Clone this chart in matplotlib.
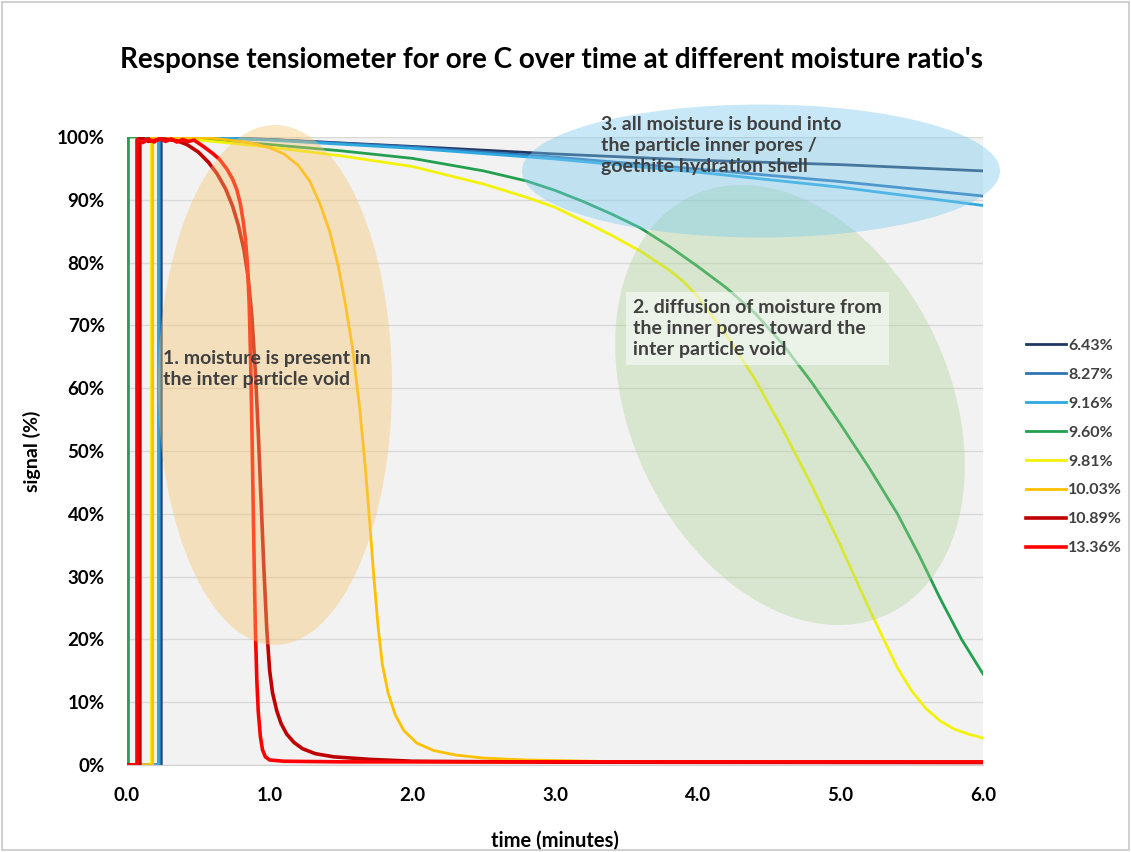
import matplotlib
matplotlib.use("Agg")
import matplotlib.pyplot as plt
from matplotlib.patches import Ellipse, Rectangle
from matplotlib.ticker import FuncFormatter

plt.rcParams['font.family'] = ['Lato', 'DejaVu Sans']

# ---------------- data ----------------
title = "Response tensiometer for ore C over time at different moisture ratio's"
x_label = "time (minutes)"
y_label = "signal (%)"

series_labels = ["6.43%", "8.27%", "9.16%", "9.60%", "9.81%", "10.03%", "10.89%", "13.36%"]
series_colors = ["#203864", "#2e75b6", "#2fa8e0", "#22a050", "#f2f20a", "#ffc000", "#c00000", "#ff0000"]

t_643 = [0, 0.24, 0.24, 0.5, 1.0, 2.0, 3.0, 4.0, 5.0, 6.0]
v_643 = [0, 0, 100, 100, 99.6, 98.5, 97.3, 96.3, 95.6, 94.6]

t_827 = [0, 0.23, 0.23, 0.5, 1.0, 2.0, 3.0, 4.0, 5.0, 6.0]
v_827 = [0, 0, 100, 100, 99.6, 98.4, 96.8, 94.9, 92.9, 90.6]

t_916 = [0, 0.22, 0.22, 0.5, 1.0, 2.0, 3.0, 4.0, 5.0, 6.0]
v_916 = [0, 0, 100, 100, 99.5, 98.2, 96.5, 94.4, 92.0, 89.1]

t_960 = [0, 0.01, 0.01, 0.3, 0.6, 1.0, 1.5, 2.0, 2.5, 2.8, 3.0, 3.2, 3.4, 3.6, 3.8, 4.0, 4.2, 4.4,
         4.6, 4.8, 5.0, 5.2, 5.4, 5.55, 5.7, 5.85, 6.0]
v_960 = [0, 0, 100, 100, 99.5, 98.8, 97.8, 96.6, 94.6, 93.0, 91.5, 89.7, 87.7, 85.5, 82.6, 79.4, 76.0, 72.0,
         66.9, 60.9, 54.3, 47.4, 40.0, 33.5, 26.5, 20.0, 14.5]

t_981 = [0, 0.17, 0.17, 0.3, 0.6, 1.0, 1.5, 2.0, 2.5, 2.8, 3.0, 3.2, 3.4, 3.6, 3.8, 3.9, 4.0, 4.2, 4.4,
         4.6, 4.8, 5.0, 5.1, 5.2, 5.3, 5.4, 5.5, 5.6, 5.7, 5.8, 5.9, 6.0]
v_981 = [0, 0, 100, 100, 99.3, 98.4, 97.0, 95.3, 92.5, 90.4, 88.8, 86.6, 84.3, 81.8, 78.8, 77.0, 74.6, 68.5, 61.5,
         53.3, 44.5, 35.0, 30.0, 25.0, 20.2, 15.5, 11.8, 9.0, 7.0, 5.7, 4.9, 4.3]

t_1003 = [0, 0.18, 0.18, 0.4, 0.6, 0.8, 0.9, 1.0, 1.1, 1.2, 1.28, 1.35, 1.42, 1.48, 1.53, 1.58, 1.63, 1.67,
          1.70, 1.73, 1.76, 1.79, 1.83, 1.88, 1.94, 2.03, 2.15, 2.3, 2.5, 2.8, 3.5, 6.0]
v_1003 = [0, 0, 100, 100, 99.8, 99.3, 98.9, 98.3, 97.3, 95.5, 93.0, 89.5, 85.0, 79.5, 73.5, 66.5, 57.0, 47.5,
          39.0, 30.0, 22.0, 16.0, 11.5, 8.0, 5.5, 3.5, 2.3, 1.6, 1.1, 0.8, 0.5, 0.4]

t_1089 = [0, 0.09, 0.09, 0.15, 0.25, 0.35, 0.42, 0.5, 0.57, 0.63, 0.69, 0.74, 0.78, 0.82, 0.85, 0.875, 0.9,
          0.92, 0.94, 0.96, 0.98, 1.0, 1.02, 1.05, 1.08, 1.12, 1.17, 1.23, 1.32, 1.45, 1.7, 2.0, 3.0, 6.0]
v_1089 = [0, 0, 100, 99.3, 99.7, 99.4, 98.8, 97.6, 96.0, 94.2, 91.8, 89.0, 86.0, 82.0, 77.5, 71.5, 62.5,
          53.0, 42.0, 31.0, 21.5, 15.0, 11.5, 8.6, 6.6, 4.9, 3.6, 2.6, 1.8, 1.3, 0.9, 0.6, 0.45, 0.4]

t_1336 = [0, 0.07, 0.07, 0.11, 0.15, 0.19, 0.23, 0.27, 0.31, 0.35, 0.39, 0.43, 0.47, 0.535, 0.6, 0.65, 0.7,
          0.74, 0.77, 0.795, 0.815, 0.83, 0.845, 0.857, 0.867, 0.876, 0.884, 0.892, 0.9, 0.91, 0.92, 0.935,
          0.95, 0.97, 1.0, 1.1, 1.5, 6.0]
v_1336 = [0, 0, 99.6, 99.1, 99.7, 99.2, 99.8, 99.3, 99.7, 99.2, 99.6, 99.3, 99.5, 98.5, 97.4, 96.4, 94.9,
          93.3, 91.6, 89.3, 86.5, 83.8, 79.5, 73.0, 64.0, 53.0, 42.0, 31.0, 21.5, 13.5, 8.5, 4.5,
          2.4, 1.3, 0.8, 0.6, 0.5, 0.5]

series_t = [t_643, t_827, t_916, t_960, t_981, t_1003, t_1089, t_1336]
series_v = [v_643, v_827, v_916, v_960, v_981, v_1003, v_1089, v_1336]

x_ticks = [0, 1, 2, 3, 4, 5, 6]
y_ticks = [0, 10, 20, 30, 40, 50, 60, 70, 80, 90, 100]

note1 = "1. moisture is present in\nthe inter particle void"
note2 = "2. diffusion of moisture from\nthe inner pores toward the\ninter particle void"
note3 = "3. all moisture is bound into\nthe particle inner pores /\ngoethite hydration shell"

# ---------------- figure ----------------
W, H = 1131, 852
fig = plt.figure(figsize=(W / 100, H / 100), dpi=100)
fig.patch.set_facecolor("white")
ax = fig.add_axes([127 / W, 1 - 765 / H, (983 - 127) / W, (765 - 137) / H])
ax.set_facecolor("#f2f2f2")

for t, v, c, lab in zip(series_t, series_v, series_colors, series_labels):
    lw = 2.6 if c in ("#c00000", "#ff0000") else 2.0
    ax.plot(t, v, color=c, lw=lw, label=lab, zorder=2, solid_joinstyle="round")

ax.set_xlim(0, 6)
ax.set_ylim(0, 100)
ax.set_xticks(x_ticks)
ax.set_yticks(y_ticks)
ax.xaxis.set_major_formatter(FuncFormatter(lambda x, p: f"{x:.1f}"))
ax.yaxis.set_major_formatter(FuncFormatter(lambda y, p: f"{int(round(y))}%"))
ax.tick_params(length=0, labelsize=13.5)
ax.tick_params(axis="y", pad=16)
ax.tick_params(axis="x", pad=16)
for lbl in ax.get_xticklabels() + ax.get_yticklabels():
    lbl.set_fontweight("bold")
ax.yaxis.grid(True, color="#d9d9d9", lw=1.0, zorder=0)
ax.set_axisbelow(True)
for s in ["top", "right", "left"]:
    ax.spines[s].set_visible(False)
ax.spines["bottom"].set_color("#d0d0d0")

ax.set_xlabel(x_label, fontsize=14.5, fontweight="bold", labelpad=19)
ax.set_ylabel(y_label, fontsize=14, fontweight="bold", labelpad=11)
fig.text(552 / W, 1 - 60 / H, title, ha="center", va="center", fontsize=20, fontweight="bold")

# ellipses (pixel-based placement, in inches)
def px(xp, yp):
    return (xp / 100, (H - yp) / 100)

tr = fig.dpi_scale_trans
e1 = Ellipse(px(275, 385), 2.34, 5.20, angle=0, transform=tr, facecolor="#f8c46c", alpha=0.40,
             edgecolor="none", zorder=3)
e2 = Ellipse(px(790, 405), 4.62, 3.20, angle=-65, transform=tr, facecolor="#a9d18e", alpha=0.35,
             edgecolor="none", zorder=3)
e3 = Ellipse(px(761, 171), 4.78, 1.33, angle=0, transform=tr, facecolor="#7ccaee", alpha=0.42,
             edgecolor="none", zorder=3)
for e in (e1, e2, e3):
    e.set_clip_on(False)
    ax.add_artist(e)

txt_kw = dict(fontsize=14, fontweight="bold", color="#404040", ha="left", va="top",
              linespacing=1.27, zorder=5, transform=tr)
ax.text(*px(163, 350), note1, **txt_kw)
ax.text(*px(633, 299), note2, bbox=dict(facecolor="white", alpha=0.5, edgecolor="none", pad=5), **txt_kw)
ax.text(*px(601, 116), note3, **txt_kw)

leg = fig.legend(loc="center left", bbox_to_anchor=(1020 / W, 1 - 447 / H), frameon=False,
                 handlelength=2.5, handletextpad=0.1, labelspacing=0.92, borderaxespad=0,
                 prop=dict(family=["Lato", "DejaVu Sans"], weight="bold", size=11.5))
for txt in leg.get_texts():
    txt.set_color("#404040")

fig.add_artist(Rectangle((0.002, 0.002), 0.996, 0.996, transform=fig.transFigure, fill=False,
                         edgecolor="#c8c8c8", lw=1.2))

fig.savefig("out.png", dpi=100)
